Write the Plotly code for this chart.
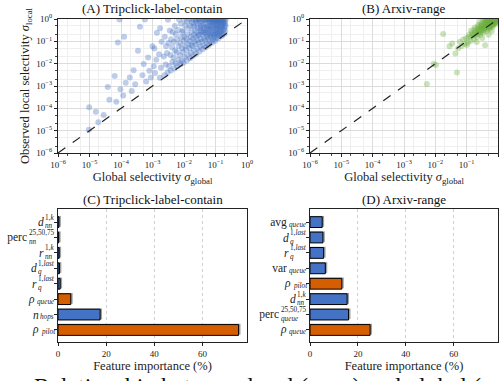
import re
import plotly.graph_objects as go

# ---------------- data ----------------
# (A) Tripclick-label-contain : log10(global), log10(local)
tc_pairs = [
    (-5.02,-4.96),(-5.01,-3.95),(-4.80,-4.15),(-4.72,-4.62),(-4.55,-4.30),(-4.42,-3.05),(-4.37,-3.62),
    (-4.15,-3.70),(-4.20,-2.55),(-4.10,-1.05),(-4.02,-3.15),(-3.93,-3.42),(-3.85,-2.85),(-3.90,-0.80),
    (-4.05,-0.02),(-3.72,-2.62),(-3.66,-3.22),(-3.60,-2.30),(-3.55,-2.92),(-3.46,-1.42),(-3.40,-0.35),
    (-3.32,-2.52),(-3.24,-0.02),(-3.28,-2.02),(-3.20,-2.80),(-3.14,-1.72),(-3.10,-2.32),(-3.05,-2.62),
    (-3.00,-1.22),(-2.96,-2.12),
    (-2.92,-2.42),(-2.88,-1.82),(-2.94,-1.32),(-2.86,-0.62),
    (-2.77,-2.63),(-2.73,-2.18),(-2.79,-1.58),(-2.71,-1.02),(-2.76,-0.41),
    (-2.62,-2.52),(-2.58,-2.04),(-2.64,-1.68),(-2.57,-1.22),(-2.61,-0.79),
    (-2.52,-2.38),(-2.47,-2.12),(-2.54,-1.52),(-2.49,-1.08),(-2.45,-0.52),(-2.51,-0.03),
    (-2.42,-2.31),(-2.37,-1.93),(-2.43,-1.61),(-2.38,-1.28),(-2.41,-0.91),(-2.36,-0.58),
    (-2.31,-2.22),(-2.27,-1.98),(-2.33,-1.72),(-2.28,-1.41),(-2.32,-1.03),(-2.26,-0.68),(-2.29,-0.31),
    (-2.21,-2.12),(-2.18,-1.82),(-2.23,-1.49),(-2.17,-1.21),(-2.22,-0.92),(-2.19,-0.49),(-2.16,-0.02),
    (-2.11,-2.03),(-2.08,-1.88),(-2.13,-1.62),(-2.07,-1.32),(-2.12,-1.08),(-2.09,-0.82),(-2.06,-0.58),(-2.10,-0.21),
    (-2.02,-1.96),(-1.98,-1.71),(-2.04,-1.48),(-1.97,-1.22),(-2.01,-0.98),(-1.99,-0.79),(-2.03,-0.52),(-1.96,-0.28),(-2.00,-0.02),
    (-1.91,-1.86),(-1.88,-1.61),(-1.93,-1.38),(-1.87,-1.12),(-1.92,-0.91),(-1.89,-0.68),(-1.86,-0.41),(-1.90,-0.12),
    (-1.81,-1.76),(-1.78,-1.52),(-1.83,-1.31),(-1.77,-1.18),(-1.82,-0.98),(-1.79,-0.81),(-1.76,-0.59),(-1.80,-0.31),(-1.84,-0.02),
    (-1.71,-1.66),(-1.68,-1.41),(-1.73,-1.21),(-1.67,-1.02),(-1.72,-0.88),(-1.69,-0.71),(-1.66,-0.49),(-1.70,-0.22),(-1.74,-0.01),
    (-1.61,-1.56),(-1.58,-1.32),(-1.63,-1.12),(-1.57,-0.94),(-1.62,-0.79),(-1.59,-0.61),(-1.56,-0.39),(-1.60,-0.12),(-1.64,-0.02),
    (-1.51,-1.46),(-1.48,-1.24),(-1.53,-1.06),(-1.47,-0.89),(-1.52,-0.71),(-1.49,-0.49),(-1.46,-0.31),(-1.50,-0.16),(-1.54,-0.01),
    (-1.41,-1.36),(-1.38,-1.19),(-1.43,-1.01),(-1.37,-0.86),(-1.42,-0.69),(-1.39,-0.56),(-1.36,-0.41),(-1.40,-0.24),(-1.44,-0.09),(-1.35,-0.01),
    (-1.31,-1.27),(-1.28,-1.11),(-1.33,-0.94),(-1.27,-0.81),(-1.32,-0.64),(-1.29,-0.51),(-1.26,-0.34),(-1.30,-0.21),(-1.34,-0.06),(-1.25,-0.01),
    (-1.21,-1.16),(-1.18,-1.01),(-1.23,-0.89),(-1.17,-0.76),(-1.22,-0.61),(-1.19,-0.44),(-1.16,-0.31),(-1.20,-0.14),(-1.24,-0.02),(-1.15,-0.01),
    (-1.11,-1.06),(-1.08,-0.94),(-1.13,-0.81),(-1.07,-0.69),(-1.12,-0.56),(-1.09,-0.41),(-1.06,-0.29),(-1.10,-0.19),(-1.14,-0.11),(-1.05,-0.02),(-1.11,-0.01),
    (-1.01,-0.97),(-0.98,-0.86),(-1.03,-0.71),(-0.97,-0.61),(-1.02,-0.49),(-0.99,-0.39),(-0.96,-0.31),(-1.00,-0.21),(-1.04,-0.11),(-0.95,-0.06),(-1.01,-0.02),(-0.98,-0.01),
    (-0.91,-0.87),(-0.88,-0.76),(-0.93,-0.64),(-0.87,-0.56),(-0.92,-0.44),(-0.89,-0.36),(-0.86,-0.24),(-0.90,-0.16),(-0.94,-0.08),(-0.85,-0.02),(-0.91,-0.01),
    (-0.81,-0.77),(-0.78,-0.69),(-0.83,-0.61),(-0.77,-0.49),(-0.82,-0.41),(-0.79,-0.29),(-0.76,-0.21),(-0.80,-0.11),(-0.84,-0.02),(-0.75,-0.01),
    (-0.72,-0.66),(-0.69,-0.54),(-0.73,-0.46),(-0.68,-0.31),(-0.71,-0.19),(-0.70,-0.09),(-0.67,-0.01),
    (-1.28,-0.42),(-1.22,-0.28),(-1.17,-0.52),(-1.12,-0.36),(-1.07,-0.15),(-1.02,-0.62),(-0.97,-0.45),
    (-0.93,-0.28),(-0.89,-0.12),(-0.85,-0.50),(-0.82,-0.33),(-0.78,-0.18),(-0.74,-0.05),(-0.72,-0.38),
    (-0.70,-0.25),(-1.25,-0.71),(-1.15,-0.66),(-1.05,-0.82),(-0.95,-0.72),(-0.87,-0.66),(-1.18,-0.08),
    (-1.08,-0.04),(-0.98,-0.15),(-0.92,-0.03),(-0.83,-0.08),(-0.77,-0.02),(-1.35,-0.62),(-1.45,-0.58),
    (-1.55,-0.72),(-1.38,-0.33),(-1.48,-0.41),(-1.58,-0.23),(-1.68,-0.35),(-1.75,-0.15),(-1.32,-0.02),
    (-1.42,-0.02),(-1.52,-0.02),(-1.62,-0.01),(-1.22,-0.01),(-1.02,-0.01),
]

# (B) Arxiv-range : log10(global), log10(local)
ax_pairs = [
    (-2.27,-2.91),(-2.05,-2.00),(-1.98,-2.06),(-1.31,-2.39),(-1.75,-0.67),(-1.55,-1.22),(-1.46,-1.10),
    (-1.36,-1.55),(-1.27,-1.31),(-1.22,-1.02),(-1.16,-1.21),(-1.11,-0.92),(-1.06,-1.12),(-1.02,-0.86),(-0.99,-1.16),
    (-0.96,-1.05),(-0.94,-0.82),(-0.92,-0.70),
    (-0.87,-0.98),(-0.85,-0.78),(-0.83,-0.62),(-0.86,-0.52),
    (-0.77,-0.90),(-0.75,-0.72),(-0.73,-0.60),(-0.76,-0.48),(-0.74,-0.38),(-0.68,-1.03),
    (-0.67,-0.82),(-0.65,-0.68),(-0.63,-0.55),(-0.66,-0.45),(-0.64,-0.35),(-0.62,-0.26),
    (-0.57,-0.72),(-0.55,-0.60),(-0.53,-0.50),(-0.56,-0.40),(-0.54,-0.30),(-0.52,-0.21),(-0.58,-0.12),(-0.50,-0.85),
    (-0.47,-0.62),(-0.45,-0.52),(-0.43,-0.42),(-0.46,-0.33),(-0.44,-0.24),(-0.42,-0.15),(-0.48,-0.06),(-0.41,-0.01),(-0.41,-1.18),
    (-0.37,-0.55),(-0.35,-0.45),(-0.33,-0.36),(-0.36,-0.28),(-0.34,-0.20),(-0.32,-0.12),(-0.38,-0.05),(-0.31,-0.01),(-0.30,-0.70),
    (-0.27,-0.45),(-0.25,-0.36),(-0.23,-0.28),(-0.26,-0.20),(-0.24,-0.13),(-0.22,-0.06),(-0.28,-0.02),(-0.21,-0.01),(-0.20,-0.55),
    (-0.17,-0.35),(-0.15,-0.26),(-0.13,-0.19),(-0.16,-0.12),(-0.14,-0.06),(-0.12,-0.02),(-0.18,-0.01),
    (-0.07,-0.22),(-0.05,-0.15),(-0.03,-0.09),(-0.06,-0.04),(-0.04,-0.01),(-0.02,-0.01),
    (-0.45,-0.38),(-0.40,-0.28),(-0.35,-0.18),(-0.30,-0.24),(-0.27,-0.10),(-0.25,-0.30),(-0.20,-0.15),
    (-0.18,-0.22),(-0.15,-0.08),(-0.12,-0.14),(-0.10,-0.05),(-0.08,-0.10),(-0.06,-0.02),(-0.03,-0.05),
    (-0.01,-0.02),(-0.22,-0.01),(-0.12,-0.01),(-0.33,-0.01),(-0.50,-0.40),(-0.55,-0.50),(-0.60,-0.45),
    (-0.70,-0.55),(-0.80,-0.70),(-0.62,-0.62),(-0.52,-0.30),(-0.42,-0.08),(-0.38,-0.35),(-0.28,-0.38),
    (-0.18,-0.30),(-0.09,-0.18),
]

diag_vals = [1e-6, 1.0]
log_tick_vals = [1e-6, 1e-5, 1e-4, 1e-3, 1e-2, 1e-1, 1.0]
log_tick_text = ["10<sup>−6</sup>", "10<sup>−5</sup>", "10<sup>−4</sup>", "10<sup>−3</sup>",
                 "10<sup>−2</sup>", "10<sup>−1</sup>", "10<sup>0</sup>"]

# (C) Tripclick-label-contain feature importance, bottom -> top : (base, subscript, superscript)
c_labels = [("<i>ρ</i>", "<i>pilot</i>", ""), ("<i>n</i>", "<i>hops</i>", ""),
            ("<i>ρ</i>", "<i>queue</i>", ""), ("<i>r</i>", "<i>q</i>", "1,<i>last</i>"),
            ("<i>d</i>", "<i>q</i>", "1,<i>last</i>"), ("<i>r</i>", "<i>nn</i>", "1,<i>k</i>"),
            ("perc", "<i>nn</i>", "25,50,75"), ("<i>d</i>", "<i>nn</i>", "1,<i>k</i>")]
c_values = [75.0, 17.5, 5.3, 0.9, 0.6, 0.5, 0.3, 0.4]
c_is_rho = [True, False, True, False, False, False, False, False]

# (D) Arxiv-range feature importance, bottom -> top
d_labels = [("<i>ρ</i>", "<i>queue</i>", ""), ("perc", "<i>queue</i>", "25,50,75"),
            ("<i>d</i>", "<i>nn</i>", "1,<i>k</i>"), ("<i>ρ</i>", "<i>pilot</i>", ""),
            ("var", "<i>queue</i>", ""), ("<i>r</i>", "<i>q</i>", "1,<i>last</i>"),
            ("<i>d</i>", "<i>q</i>", "1,<i>last</i>"), ("avg", "<i>queue</i>", "")]
d_values = [25.1, 16.1, 15.5, 13.3, 6.4, 5.7, 5.4, 5.1]
d_is_rho = [True, False, False, True, False, False, False, False]

# ---------------- style ----------------
FONT = "Liberation Serif"
BLUE = "#4472C4"
ORANGE = "#D55E00"
GREEN = "#6AAF3D"
W, H = 503, 381

def px_x(a, b):
    return [a / W, b / W]

def px_y(top, bottom):
    return [1 - bottom / H, 1 - top / H]

fig = go.Figure()

def scatter_panel(pairs, color, xa, ya):
    xs = [10 ** p[0] for p in pairs]
    ys = [10 ** p[1] for p in pairs]
    fig.add_trace(go.Scatter(x=xs, y=ys, mode="markers", xaxis=xa, yaxis=ya,
                             marker=dict(size=6, color=color, opacity=0.35, line=dict(width=0)),
                             showlegend=False, hoverinfo="skip"))
    fig.add_trace(go.Scatter(x=diag_vals, y=diag_vals, mode="lines", xaxis=xa, yaxis=ya,
                             line=dict(color="#222", width=1.2, dash="dash"),
                             showlegend=False, hoverinfo="skip"))

scatter_panel(tc_pairs, BLUE, "x", "y")
scatter_panel(ax_pairs, GREEN, "x2", "y2")

def bar_panel(values, is_rho, xa, ya):
    ypos = list(range(len(values)))
    colors = [ORANGE if r else BLUE for r in is_rho]
    fig.add_trace(go.Bar(x=[v + 0.8 for v in values], y=ypos, orientation="h", xaxis=xa, yaxis=ya,
                         width=0.7, offset=-0.3, marker=dict(color="rgba(120,120,120,0.7)", line=dict(width=0)),
                         showlegend=False, hoverinfo="skip"))
    fig.add_trace(go.Bar(x=values, y=ypos, orientation="h", xaxis=xa, yaxis=ya,
                         width=0.7, offset=-0.35, marker=dict(color=colors, line=dict(color="black", width=1)),
                         showlegend=False, hoverinfo="skip"))

bar_panel(c_values, c_is_rho, "x3", "y3")
bar_panel(d_values, d_is_rho, "x4", "y4")

tickfont = dict(family=FONT, size=9, color="#222")
titlefont = dict(family=FONT, size=12.5, color="#222")

log_axis = dict(type="log", range=[-6, 0], tickvals=log_tick_vals, ticktext=log_tick_text,
                ticks="outside", ticklen=3, tickwidth=1, tickcolor="#222", automargin=False,
                showline=True, linecolor="#222", linewidth=1.3, mirror=True,
                showgrid=True, gridcolor="#dcdcdc", gridwidth=0.6,
                minor=dict(ticks="outside", ticklen=2, tickcolor="#444", showgrid=True,
                           gridcolor="#efefef", gridwidth=0.5),
                tickfont=tickfont, zeroline=False)

sigma_global = "Global selectivity <i>σ</i><sub>global</sub>"
sigma_local = "Observed local selectivity <i>σ</i><sub>local</sub>"

fig.update_layout(
    template="none",
    width=W, height=H, margin=dict(l=0, r=0, t=0, b=0, autoexpand=False),
    paper_bgcolor="white", plot_bgcolor="white",
    font=dict(family=FONT, color="#222"),
    barmode="overlay",
    xaxis=dict(log_axis, domain=px_x(58, 247), anchor="y",
               title=dict(text=sigma_global, font=titlefont, standoff=3)),
    yaxis=dict(log_axis, domain=px_y(19, 153), anchor="x",
               title=dict(text=sigma_local, font=titlefont, standoff=3)),
    xaxis2=dict(log_axis, domain=px_x(310, 498), anchor="y2",
                title=dict(text=sigma_global, font=titlefont, standoff=3)),
    yaxis2=dict(log_axis, domain=px_y(19, 153), anchor="x2"),
)

bar_x = dict(range=[0, 78.5], tickvals=[0, 20, 40, 60], ticks="outside", ticklen=3, tickcolor="#222",
             showline=True, linecolor="#222", linewidth=1.3, mirror=True, automargin=False,
             showgrid=True, gridcolor="#cfcfcf", gridwidth=0.8, griddash="dot",
             tickfont=tickfont, zeroline=False)
bar_y = dict(range=[-0.78, 7.85], ticks="outside", ticklen=3, tickcolor="#222",
             showline=True, linecolor="#222", linewidth=1.3, mirror=True, showgrid=False,
             showticklabels=False, zeroline=False, automargin=False)

fig.update_layout(
    xaxis3=dict(bar_x, domain=px_x(58, 247), anchor="y3",
                title=dict(text="Feature importance (%)", font=titlefont, standoff=3)),
    yaxis3=dict(bar_y, domain=px_y(209, 342), anchor="x3", tickvals=list(range(len(c_labels)))),
    xaxis4=dict(bar_x, domain=px_x(310, 498), anchor="y4",
                title=dict(text="Feature importance (%)", font=titlefont, standoff=3)),
    yaxis4=dict(bar_y, domain=px_y(209, 342), anchor="x4", tickvals=list(range(len(d_labels)))),
)

annotations = []
titles = [("(A) Tripclick-label-contain", 152.5, 8),
          ("(B) Arxiv-range", 404, 8),
          ("(C) Tripclick-label-contain", 152.5, 199),
          ("(D) Arxiv-range", 404, 199)]
for text, cx, cy in titles:
    annotations.append(dict(text=text, x=cx / W, y=1 - cy / H, xref="paper", yref="paper",
                            xanchor="center", yanchor="middle", showarrow=False,
                            font=dict(family=FONT, size=13, color="#111")))

# stacked sub/superscript tick labels for the bar panels
CW = {"0": .5, "1": .5, "2": .5, "5": .5, "7": .5, ",": .25, "a": .5, "e": .44, "i": .28, "l": .28,
      "n": .5, "o": .5, "p": .5, "q": .5, "s": .39, "t": .28, "u": .5, "h": .5, "k": .44}

def est_width(html, size):
    plain = re.sub(r"<[^>]+>", "", html)
    return sum(CW.get(ch, .5) for ch in plain) * size

BASE_SZ, SCR_SZ = 11.5, 7.2
BOX = 44
def label_annots(labels, right_px, yref):
    out = []
    for i, (base, sub, sup) in enumerate(labels):
        sw = max(est_width(sub, SCR_SZ), est_width(sup, SCR_SZ))
        xs = (right_px - sw) / W
        out.append(dict(text=base, x=xs, y=i, xref="paper", yref=yref, xanchor="right", align="right",
                        width=BOX, yanchor="middle", showarrow=False, borderpad=0, xshift=0.5,
                        font=dict(family=FONT, size=BASE_SZ, color="#222")))
        out.append(dict(text=sub, x=xs, y=i, xref="paper", yref=yref, xanchor="left", align="left",
                        width=BOX, yanchor="middle", showarrow=False, borderpad=0,
                        yshift=-4 if sup else -2.5,
                        font=dict(family=FONT, size=SCR_SZ, color="#222")))
        if sup:
            out.append(dict(text=sup, x=xs, y=i, xref="paper", yref=yref, xanchor="left", align="left",
                            width=BOX, yanchor="middle", showarrow=False, borderpad=0, yshift=4.5,
                            font=dict(family=FONT, size=SCR_SZ, color="#222")))
    return out

annotations += label_annots(c_labels, 53, "y3")
annotations += label_annots(d_labels, 305, "y4")

annotations.append(dict(text="Relationship between local (<i>σ</i><sub>local</sub>) and global (<i>σ</i><sub>global</sub>) selectivity",
                        x=32 / W, y=1 - 371 / H, xref="paper", yref="paper",
                        xanchor="left", yanchor="top", showarrow=False,
                        font=dict(family=FONT, size=24, color="#111")))
fig.update_layout(annotations=annotations)

fig.write_html("out.html", config={"displayModeBar": False},
               post_script="document.body.style.margin='0';document.body.style.overflow='hidden';")
